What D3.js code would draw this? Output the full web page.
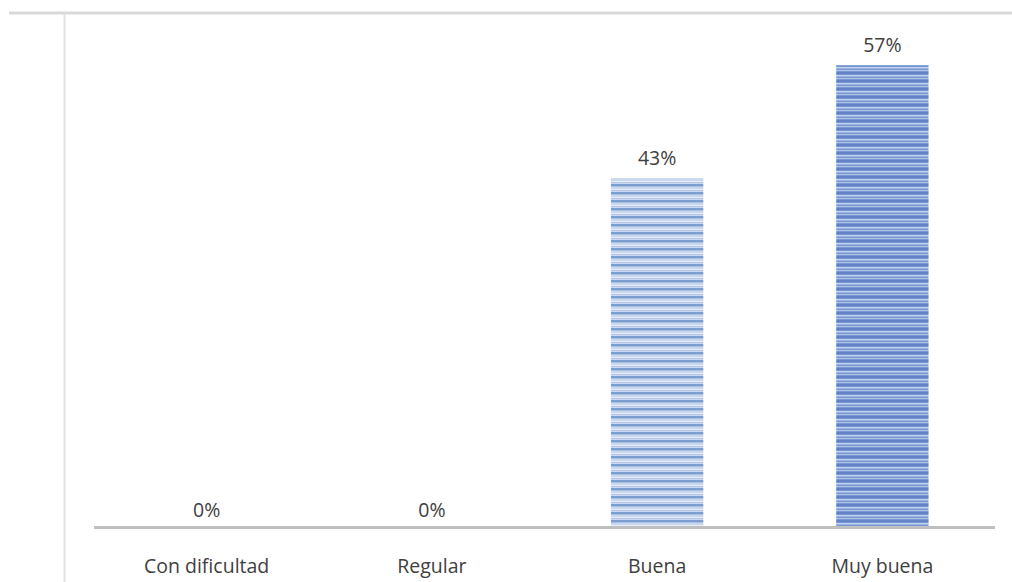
<!DOCTYPE html>
<html><head><meta charset="utf-8">
<script src="https://cdn.jsdelivr.net/npm/d3@7"></script>
<style>html,body{margin:0;padding:0;background:#fff;}svg{display:block;}</style>
</head><body>
<svg id="c" width="1012" height="582"></svg>
<script>
const categories = ["Con dificultad", "Regular", "Buena", "Muy buena"];
const values = [0, 0, 43, 57];
const valueLabels = ["0%", "0%", "43%", "57%"];

const svg = d3.select("#c");
const W = 1012, H = 582;
const m = {left: 94, right: 17, top: 41, bottom: 56};
const FONT = "'Open Sans', sans-serif";

const x = d3.scaleBand().domain(categories).range([m.left, W - m.right]).paddingInner(0.59).paddingOuter(0.295);
const y = d3.scaleLinear().domain([0, 60]).range([H - m.bottom, m.top]);

const defs = svg.append("defs");
function stripe(id, bg, lines) {
  const p = defs.append("pattern").attr("id", id).attr("patternUnits", "userSpaceOnUse")
    .attr("width", 8).attr("height", 8);
  p.append("rect").attr("width", 8).attr("height", 8).attr("fill", bg);
  lines.forEach(l => p.append("rect").attr("y", l[0]).attr("width", 8).attr("height", l[1]).attr("fill", l[2]));
}
stripe("pLight", "#c9d8ee", [[0, 2, "#7b9dd0"], [2, 1, "#a9c0e2"], [5, 1, "#e6edf7"], [6, 1, "#b4c8e6"]]);
stripe("pDark", "#7897d2", [[0, 2, "#6283c6"], [3, 1, "#c2d3ef"], [4, 1, "#9bb5e2"], [6, 1, "#b0c5ea"]]);

// frame lines
svg.append("line").attr("x1", 9).attr("x2", W).attr("y1", 13).attr("y2", 13)
  .attr("stroke", "#d9d9d9").attr("stroke-width", 3);
svg.append("line").attr("x1", 64.5).attr("x2", 64.5).attr("y1", 14).attr("y2", H)
  .attr("stroke", "#e0e0e0").attr("stroke-width", 2);

// bars
svg.selectAll("rect.bar").data(values).enter().append("rect").attr("class", "bar")
  .attr("x", (d, i) => x(categories[i]))
  .attr("width", x.bandwidth())
  .attr("y", d => y(d))
  .attr("height", d => y(0) - y(d))
  .attr("fill", (d, i) => i === 3 ? "url(#pDark)" : "url(#pLight)");

// axis
const axis = svg.append("g").attr("transform", `translate(0,${y(0)})`)
  .call(d3.axisBottom(x).tickSize(0).tickPadding(33));
axis.select(".domain").attr("stroke", "#bfbfbf").attr("stroke-width", 3).attr("d", `M${m.left},1.5H${W - m.right}`);
axis.selectAll("text").attr("font-family", FONT).attr("font-size", 19.5).attr("fill", "#404040");

// value labels
svg.selectAll("text.val").data(values).enter().append("text").attr("class", "val")
  .attr("x", (d, i) => x(categories[i]) + x.bandwidth() / 2)
  .attr("y", d => y(d) - (d > 0 ? 13 : 9))
  .attr("text-anchor", "middle")
  .attr("font-family", FONT).attr("font-size", 19.5).attr("fill", "#404040")
  .text((d, i) => valueLabels[i]);
</script>
</body></html>
